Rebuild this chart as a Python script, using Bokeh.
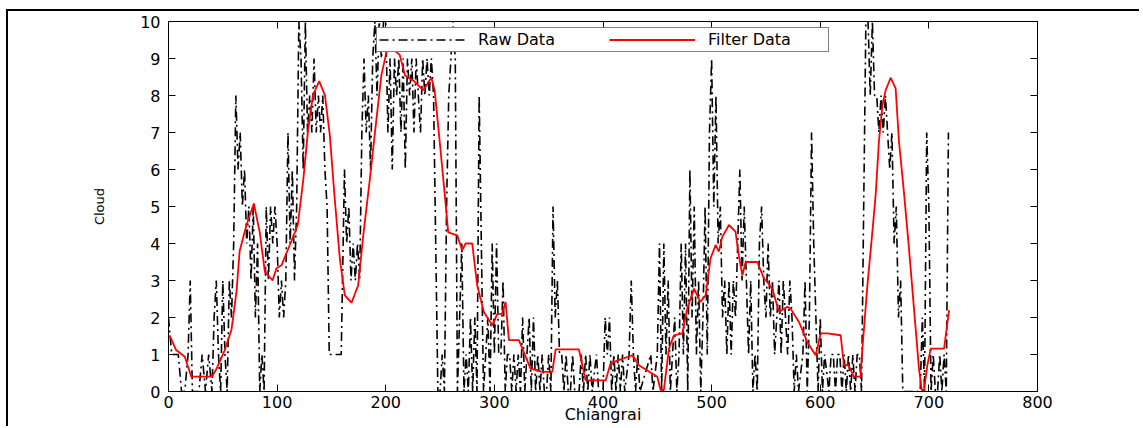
from bokeh.plotting import figure
from bokeh.models import Range1d, LinearAxis, Legend, LegendItem, FixedTicker
from bokeh.embed import file_html
from bokeh.resources import INLINE

FONT = "DejaVu Sans"

x_ticks = [0, 100, 200, 300, 400, 500, 600, 700, 800]
y_ticks = [0, 1, 2, 3, 4, 5, 6, 7, 8, 9, 10]

raw_x = [0, 3, 6, 9, 12, 15, 18, 20, 22, 25, 28, 31, 34, 37, 40, 42, 44, 46, 48, 50,
         52, 54, 56, 58, 60, 62, 64, 66, 68, 70, 72, 74, 76, 78, 80, 82, 84, 86, 88, 90,
         92, 94, 96, 98, 100, 102, 104, 106, 108, 110, 112, 114, 116, 118, 120, 122, 124, 126, 128, 130,
         132, 134, 136, 138, 140, 142, 144, 146, 148, 152, 156, 159, 162, 164, 166, 168, 170, 172, 174, 176,
         178, 180, 182, 184, 186, 188, 190, 192, 194, 196, 198, 200, 202, 204, 206, 208, 210, 212, 214, 216,
         218, 220, 222, 224, 226, 228, 230, 232, 234, 236, 238, 240, 242, 244, 246, 248, 250, 252, 254, 256,
         258, 260, 262, 264, 266, 268, 270, 272, 274, 276, 278, 280, 282, 284, 286, 288, 290, 292, 294, 296,
         298, 300, 302, 304, 306, 308, 310, 312, 314, 316, 318, 320, 322, 324, 326, 328, 330, 332, 334, 336,
         338, 340, 342, 344, 346, 348, 350, 352, 354, 356, 358, 360, 362, 364, 366, 368, 370, 372, 374, 378,
         380, 382, 384, 386, 388, 390, 394, 396, 400, 402, 404, 406, 408, 410, 412, 414, 416, 418, 420, 424,
         426, 428, 430, 432, 434, 444, 446, 450, 452, 454, 456, 458, 460, 462, 464, 466, 468, 470, 472, 474,
         476, 478, 480, 482, 484, 486, 488, 490, 492, 494, 496, 498, 500, 502, 504, 506, 508, 510, 512, 514,
         516, 518, 520, 522, 524, 526, 528, 530, 532, 534, 536, 538, 540, 542, 544, 546, 548, 550, 552, 554,
         556, 558, 560, 562, 564, 566, 568, 570, 572, 574, 576, 578, 580, 584, 586, 588, 590, 592, 594, 596,
         598, 600, 602, 604, 608, 610, 612, 614, 616, 618, 620, 622, 624, 626, 628, 630, 632, 634, 636, 638,
         640, 642, 644, 646, 648, 650, 652, 654, 656, 658, 660, 662, 664, 666, 668, 670, 672, 674, 676, 692,
         694, 696, 698, 700, 702, 704, 706, 708, 710, 712, 714, 716, 718]
raw_y = [2, 1, 1, 1, 0, 0, 1, 3, 0, 0, 0, 1, 0, 1, 0, 2, 3, 1, 0, 3,
         1, 0, 3, 2, 4, 8, 6, 7, 5, 6, 4, 5, 3, 5, 2, 4, 0, 1, 0, 5,
         3, 5, 4, 5, 4, 2, 3, 2, 3, 7, 4, 6, 3, 5, 10, 9, 6, 10, 7, 8,
         7, 9, 7, 8, 7, 8, 6, 5, 1, 1, 1, 1, 6, 4, 5, 3, 4, 3, 4, 3,
         7, 9, 7, 8, 6, 9, 10, 8, 10, 9, 10, 10, 7, 9, 6, 9, 8, 9, 7, 9,
         6, 9, 8, 9, 7, 9, 8, 7, 9, 8, 9, 8, 9, 8, 4, 0, 0, 1, 0, 5,
         8, 9, 10, 9, 0, 2, 4, 0, 1, 0, 2, 0, 2, 0, 8, 4, 0, 1, 2, 0,
         4, 1, 4, 1, 1, 3, 0, 1, 1, 0, 1, 0, 1, 0, 2, 0, 1, 2, 0, 2,
         0, 1, 0, 1, 0, 0, 1, 0, 5, 2, 3, 1, 1, 0, 1, 0, 0, 1, 0, 0,
         1, 0, 1, 0, 1, 0, 1, 0, 0, 2, 1, 2, 0, 1, 0, 1, 0, 1, 0, 1,
         3, 1, 0, 1, 0, 1, 0, 1, 4, 0, 4, 1, 3, 0, 1, 2, 0, 1, 4, 1,
         4, 0, 6, 2, 5, 1, 3, 0, 2, 5, 1, 7, 9, 5, 8, 4, 5, 2, 3, 1,
         3, 1, 3, 2, 4, 6, 3, 5, 3, 1, 3, 0, 1, 0, 4, 5, 3, 2, 4, 2,
         3, 1, 2, 3, 1, 3, 2, 1, 3, 2, 0, 1, 0, 1, 3, 0, 2, 7, 4, 2,
         0, 2, 0, 1, 0, 1, 1, 0, 1, 1, 0, 1, 0, 1, 0, 1, 0, 1, 1, 0,
         5, 10, 10, 8, 10, 8, 8, 7, 8, 7, 8, 7, 6, 7, 4, 5, 2, 3, 0, 0,
         2, 0, 7, 5, 0, 1, 0, 0, 1, 0, 1, 0, 7]

filt_x = [1, 7, 15, 21, 40, 44, 51.5, 58, 62.6, 65.5, 71.8, 78.6, 84, 88.7, 95.8, 99.4, 104, 111.7, 119, 124,
          128.6, 133, 138.7, 144, 148.5, 153, 157.7, 162.3, 168.5, 174.6, 179.3, 185.4, 191.5, 196, 200.7, 205, 213, 217.6, 226.8, 234.5,
          242, 245, 250, 254.4, 257.5, 265.8, 270.4, 273.5, 279.6, 284.2, 290.3, 298, 302.7, 307, 310.3, 313.4, 322.6, 333.3, 344, 353.3,
          356.4, 377.8, 384, 402.4, 407, 416.2, 427, 433, 450, 453, 456, 460.7, 465.3, 473, 477.6, 483.7, 489.7, 494.5, 499, 503.7,
          506.7, 509.8, 516, 522, 525, 528.3, 531.3, 542, 548.2, 551.3, 555.9, 562, 569.7, 572.7, 580.4, 588, 595.8, 600.4, 606.5, 618.8,
          621.8, 626, 631, 637, 638.8, 643.4, 648, 651, 654, 657.2, 660.2, 664.8, 669.4, 672.5, 677, 681.7, 686.3, 690.9, 693.4, 695.5,
          698.6, 701.7, 714, 716, 718.6]
filt_y = [1.52, 1.12, 0.94, 0.4, 0.4, 0.6, 1.1, 1.67, 2.7, 3.8, 4.5, 5.08, 4.3, 3.24, 3.0, 3.33, 3.41, 3.96, 4.5, 5.7,
          7.1, 8.01, 8.39, 8.01, 6.93, 5.22, 3.6, 2.6, 2.4, 2.87, 4.22, 5.75, 7.38, 8.55, 9.18, 9.3, 9.09, 8.55, 8.37, 8.14,
          8.48, 8.14, 6.66, 5.3, 4.3, 4.22, 3.82, 4.0, 4.0, 2.87, 2.15, 1.79, 2.1, 2.1, 2.42, 1.39, 1.39, 0.62, 0.53, 0.53,
          1.14, 1.14, 0.3, 0.3, 0.76, 0.87, 0.98, 0.71, 0.4, 0.04, 0.04, 1.16, 1.52, 1.57, 2.24, 2.78, 2.42, 2.6, 3.6, 3.96,
          3.78, 4.18, 4.5, 4.32, 3.68, 3.14, 3.5, 3.5, 3.05, 2.96, 2.78, 2.15, 2.29, 2.24, 1.88, 1.34, 0.98, 1.57, 1.57, 1.52,
          0.71, 0.71, 0.4, 0.4, 1.16, 2.87, 4.32, 5.31, 6.75, 7.73, 8.14, 8.48, 8.19, 6.75, 5.4, 3.86, 2.24, 0.62, 0.04, 0.04,
          0.71, 1.16, 1.16, 1.62, 2.2]

p = figure(width=1133, height=417, output_backend="svg", toolbar_location=None,
           x_range=Range1d(0, 800), y_range=Range1d(0, 10),
           min_border_left=160, min_border_right=104, min_border_top=10, min_border_bottom=37,
           styles={"border-top": "2px solid black", "border-left": "2px solid black",
                   "margin-left": "6px", "margin-top": "9px"})
p.background_fill_color = "white"
p.border_fill_color = "white"
p.outline_line_color = "black"
p.grid.grid_line_color = None

r1 = p.line(raw_x, raw_y, line_color="black", line_width=1.6, line_dash="9 4 2 4")
r2 = p.line(filt_x, filt_y, line_color="red", line_width=1.8)


def style_axis(ax, show_labels):
    ax.axis_line_color = "black"
    ax.axis_line_width = 1
    ax.major_tick_line_color = "black"
    ax.major_tick_in = 7
    ax.major_tick_out = 0
    ax.minor_tick_line_color = None
    ax.major_label_text_font = FONT
    if show_labels:
        ax.major_label_text_font_size = "16px"
        ax.major_label_text_color = "black"
    else:
        ax.major_label_text_font_size = "1px"
        ax.major_label_text_color = None
        ax.major_label_standoff = 0


p.xaxis.ticker = FixedTicker(ticks=x_ticks)
p.yaxis.ticker = FixedTicker(ticks=y_ticks)
style_axis(p.xaxis[0], True)
style_axis(p.yaxis[0], True)
p.xaxis.major_label_standoff = 4
p.xaxis.axis_label = "Chiangrai"
p.xaxis.axis_label_text_font = FONT
p.xaxis.axis_label_text_font_size = "16px"
p.xaxis.axis_label_text_font_style = "normal"
p.xaxis.axis_label_text_color = "black"
p.xaxis.axis_label_standoff = -6
p.yaxis.major_label_standoff = 8
p.yaxis.axis_label = "Cloud"
p.yaxis.axis_label_text_font = FONT
p.yaxis.axis_label_text_font_size = "13px"
p.yaxis.axis_label_text_font_style = "normal"
p.yaxis.axis_label_text_color = "black"
p.yaxis.axis_label_standoff = 30

top_ax = LinearAxis(ticker=FixedTicker(ticks=x_ticks))
style_axis(top_ax, False)
p.add_layout(top_ax, "above")
right_ax = LinearAxis(ticker=FixedTicker(ticks=y_ticks))
style_axis(right_ax, False)
p.add_layout(right_ax, "right")

legend = Legend(items=[LegendItem(label="Raw Data", renderers=[r1]),
                       LegendItem(label="Filter Data", renderers=[r2])],
                orientation="horizontal", location=(208, 339),
                padding=2, spacing=13, margin=0,
                glyph_width=86, glyph_height=15, label_standoff=13,
                label_width=118, label_height=15,
                label_text_font=FONT, label_text_font_size="16px", label_text_color="black",
                border_line_color="black", border_line_width=1,
                background_fill_color="white", background_fill_alpha=1)
p.add_layout(legend, "center")

open("out.html", "w").write(file_html(p, INLINE))
